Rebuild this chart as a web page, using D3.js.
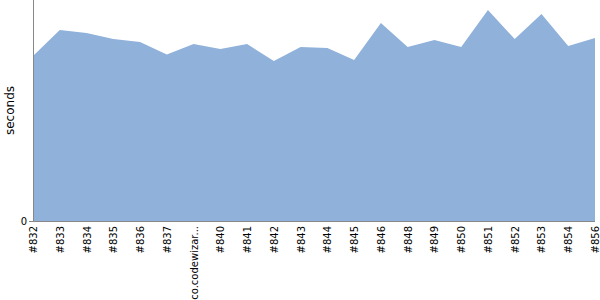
<!DOCTYPE html>
<html>
<head>
<meta charset="utf-8">
<script src="https://cdn.jsdelivr.net/npm/d3@7"></script>
<style>
  body { margin: 0; background: #fff; }
  svg { display: block; font-family: "DejaVu Sans", sans-serif; }
</style>
</head>
<body>
<svg width="600" height="300"></svg>
<script>
var margin = {left:33,right:5,top:0,bottom:79};

var width = 600;
var height = 300;

// build labels along the x axis
var builds = ["#832","#833","#834","#835","#836","#837","co.codewizards.cloudstore...","#840","#841","#842","#843",
              "#844","#845","#846","#848","#849","#850","#851","#852","#853","#854","#856"];

// duration per build, seconds
var seconds = [1.65,1.91,1.88,1.82,1.79,1.665,1.77,1.72,1.77,1.60,1.74,
               1.73,1.61,1.98,1.74,1.81,1.74,2.11,1.82,2.07,1.75,1.83];

var yTicks = [0];

var svg = d3.select("svg");

var x = d3.scalePoint()
    .domain(builds)
    .range([margin.left, width - margin.right]);

var y = d3.scaleLinear()
    .domain([0, 2.21])
    .range([height - margin.bottom, margin.top]);

var area = d3.area()
    .x(function(d, i) { return x(builds[i]); })
    .y0(y(0))
    .y1(function(d) { return y(d); });

svg.append("path")
    .datum(seconds)
    .attr("fill", "#8fb1da")
    .attr("d", area);

// y axis
var yAxis = svg.append("g")
    .attr("transform", "translate(" + margin.left + ",0)")
    .call(d3.axisLeft(y).tickValues(yTicks).tickFormat(d3.format("d")).tickSize(4).tickPadding(2));
yAxis.select(".domain").attr("stroke", "#888").attr("d", "M0.5," + margin.top + "V" + (y(0) + 0.5));
yAxis.selectAll(".tick line").attr("stroke", "#888");
yAxis.selectAll("text").attr("font-size", 10).attr("fill", "#000").attr("font-family", "DejaVu Sans, sans-serif");

// x axis
var xAxis = svg.append("g")
    .attr("transform", "translate(0," + (height - margin.bottom) + ")")
    .call(d3.axisBottom(x).tickSize(0).tickPadding(0)
      .tickFormat(function(d) { return d.length > 12 ? d.slice(0, 12) + "..." : d; }));
xAxis.select(".domain").attr("stroke", "#888").attr("d", "M" + margin.left + ",0.5H" + (width - margin.right));
xAxis.selectAll("text")
    .attr("font-size", 10)
    .attr("fill", "#000")
    .attr("font-family", "DejaVu Sans, sans-serif")
    .attr("text-anchor", "end")
    .attr("dy", "0.35em")
    .attr("transform", "translate(0,5) rotate(-90)")
    .attr("x", 0)
    .attr("y", 0);

// y axis title
svg.append("text")
    .attr("transform", "translate(14," + ((y(0) + margin.top) / 2) + ") rotate(-90)")
    .attr("text-anchor", "middle")
    .attr("font-size", 12)
    .text("seconds");
</script>
</body>
</html>
